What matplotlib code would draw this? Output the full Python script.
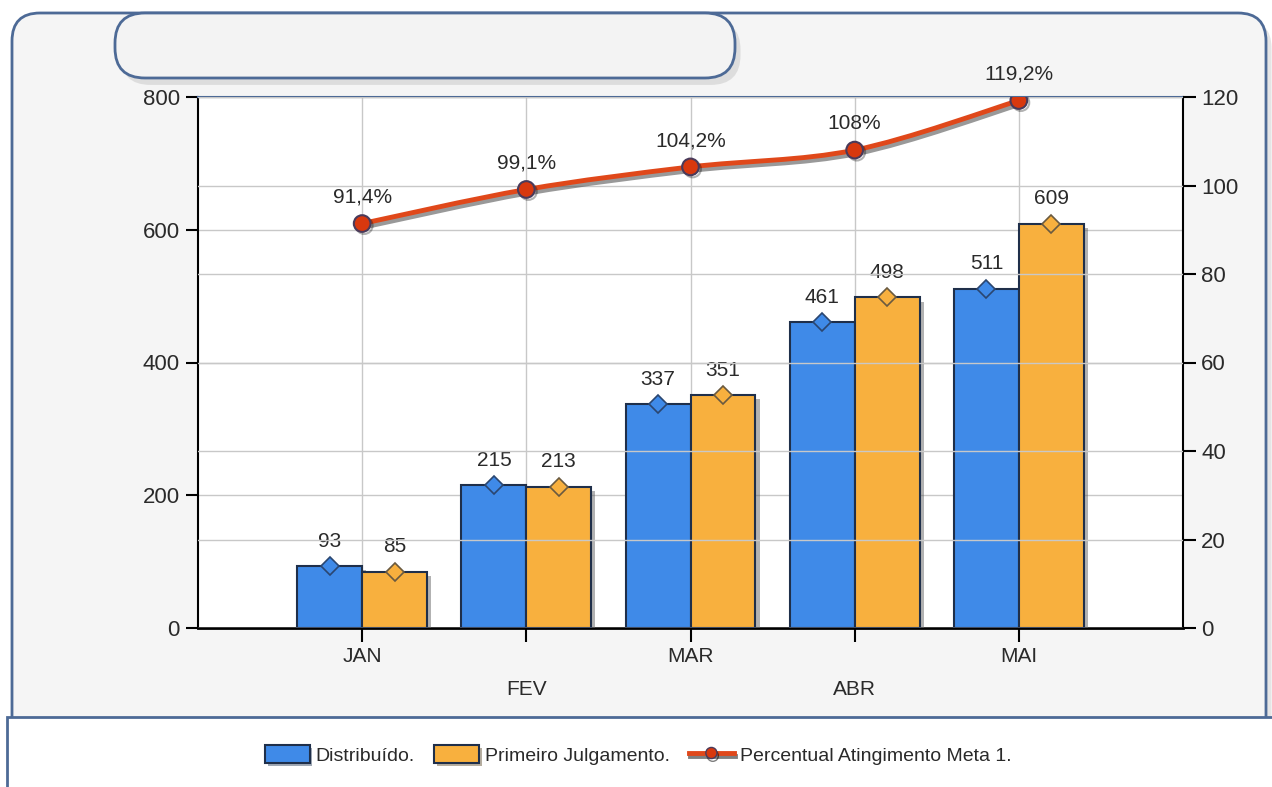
import matplotlib
matplotlib.use("Agg")
import matplotlib.pyplot as plt
import matplotlib.patheffects as pe
from matplotlib.patches import FancyBboxPatch, Rectangle, PathPatch
from matplotlib.path import Path
from matplotlib.lines import Line2D
from matplotlib.transforms import ScaledTranslation
import numpy as np

months = ["JAN", "FEV", "MAR", "ABR", "MAI"]
distribuido = [93, 215, 337, 461, 511]
julgamento = [85, 213, 351, 498, 609]
percentual = [91.4, 99.1, 104.2, 108, 119.2]

FONT = ["Liberation Sans", "DejaVu Sans"]
plt.rcParams["font.family"] = FONT

blue = "#3F8AE8"
orange = "#F8B03E"
red = "#E0481A"
edge = "#1F2F4A"
frame_c = "#4D6A96"
txt_c = "#2A2A2A"

W, H = 1272, 787
fig = plt.figure(figsize=(W / 100, H / 100), dpi=100)
fig.patch.set_facecolor("white")

# background decoration in pixel units
bg = fig.add_axes([0, 0, 1, 1], zorder=0)
bg.set_xlim(0, W)
bg.set_ylim(H, 0)
bg.axis("off")
soft = pe.withSimplePatchShadow(offset=(4, -5), shadow_rgbFace="#999999", alpha=0.25)
bg.add_patch(FancyBboxPatch((12, 13), 1254, 760, boxstyle="round,pad=0,rounding_size=28",
                            fc="#F5F5F5", ec=frame_c, lw=2, path_effects=[soft]))
bg.add_patch(FancyBboxPatch((115, 13), 620, 65, boxstyle="round,pad=0,rounding_size=30",
                            fc="#F3F3F3", ec=frame_c, lw=2, path_effects=[soft]))
bg.add_patch(Rectangle((7, 717), 1270, 80, fc="white", ec=frame_c, lw=2))

# main axes
ax = fig.add_axes([198 / W, 159 / H, 985 / W, 531 / H], zorder=2)
ax2 = ax.twinx()
x = np.arange(1, len(months) + 1)
bw = 0.395

bar_fx = [pe.SimplePatchShadow(offset=(3, -3), shadow_rgbFace="#555555", alpha=0.45), pe.Normal()]
ax.bar(x - bw / 2, distribuido, bw, color=blue, edgecolor=edge, lw=1.5, zorder=3, path_effects=bar_fx)
ax.bar(x + bw / 2, julgamento, bw, color=orange, edgecolor=edge, lw=1.5, zorder=3, path_effects=bar_fx)
ax.plot(x - bw / 2, distribuido, ls="none", marker="D", ms=9, mfc=blue, mec="#2A4670", mew=1.2, zorder=4)
ax.plot(x + bw / 2, julgamento, ls="none", marker="D", ms=9, mfc=orange, mec="#6A5A40", mew=1.2, zorder=4)
for xi, v in zip(x - bw / 2, distribuido):
    ax.annotate(str(v), (xi, v), xytext=(0, 14), textcoords="offset points", ha="center",
                va="baseline", fontsize=15, color=txt_c, zorder=5)
for xi, v in zip(x + bw / 2, julgamento):
    ax.annotate(str(v), (xi, v), xytext=(0, 14), textcoords="offset points", ha="center",
                va="baseline", fontsize=15, color=txt_c, zorder=5)

ax.set_xlim(0, len(months) + 1)
ax.set_ylim(0, 800)
ax.set_yticks([0, 200, 400, 600, 800])
ax.set_xticks(x)
ax.set_xticklabels(months)
ax.tick_params(axis="y", direction="out", length=9, width=1.5, labelsize=16, colors="black",
               labelcolor=txt_c, pad=4)
ax.tick_params(axis="x", direction="out", length=10, width=1.5, labelsize=15, colors="black",
               labelcolor=txt_c, pad=4)
for i, lab in enumerate(ax.get_xticklabels()):
    if i % 2 == 1:
        lab.set_transform(lab.get_transform() + ScaledTranslation(0, -0.33, fig.dpi_scale_trans))
ax.grid(True, color="#C8C8C8", lw=1, zorder=0)
ax.set_axisbelow(True)
ax.set_facecolor("white")
ax.spines["left"].set_linewidth(1.5)
ax.spines["bottom"].set_linewidth(2)
ax.spines["right"].set_linewidth(1.5)
ax.spines["top"].set_color(frame_c)
ax.spines["top"].set_linewidth(1.5)

# right axis, percent line
ax2.set_ylim(0, 120)
ax2.set_yticks(range(0, 121, 20))
ax2.tick_params(axis="y", direction="out", length=9, width=1.5, labelsize=16, colors="black",
                labelcolor=txt_c, pad=4)
ax2.grid(True, axis="y", color="#C8C8C8", lw=1)
ax2.set_axisbelow(True)
for s in ax2.spines.values():
    s.set_visible(False)
ax.set_zorder(1)
ax2.set_zorder(2)
ax2.patch.set_visible(False)


def smooth_path(xs, ys, t=0.5):
    xs, ys = np.asarray(xs, float), np.asarray(ys, float)
    verts = [(xs[0], ys[0])]
    codes = [Path.MOVETO]
    n = len(xs)
    for i in range(n - 1):
        p0 = i - 1 if i > 0 else i
        p3 = i + 2 if i + 2 < n else i + 1
        c1 = (xs[i] + (xs[i + 1] - xs[p0]) * t / 3, ys[i] + (ys[i + 1] - ys[p0]) * t / 3)
        c2 = (xs[i + 1] - (xs[p3] - xs[i]) * t / 3, ys[i + 1] - (ys[p3] - ys[i]) * t / 3)
        verts += [c1, c2, (xs[i + 1], ys[i + 1])]
        codes += [Path.CURVE4] * 3
    return Path(verts, codes)


line_path = smooth_path(x, percentual)
ax2.add_patch(PathPatch(line_path, fill=False, ec=red, lw=3.5, zorder=5,
                        path_effects=[pe.SimpleLineShadow(offset=(1.5, -2.5), shadow_color="#555555", alpha=0.6),
                                      pe.Normal()]))
ax2.plot(x, percentual, ls="none", marker="o", ms=12, mfc="#D8380E", mec="#4A3A5A", mew=1.5, zorder=6,
         path_effects=[pe.SimpleLineShadow(offset=(1.5, -1.5), alpha=0.3), pe.Normal()])
for xi, v in zip(x, percentual):
    ax2.annotate(f"{v:g}".replace(".", ",") + "%", (xi, v), xytext=(0, 15), textcoords="offset points",
                 ha="center", va="baseline", fontsize=15, color=txt_c, zorder=7)

# legend
handles = [
    Rectangle((0, 0), 1, 1, fc=blue, ec=edge, lw=1.5,
              path_effects=[pe.SimplePatchShadow(offset=(2, -2), alpha=0.4), pe.Normal()]),
    Rectangle((0, 0), 1, 1, fc=orange, ec=edge, lw=1.5,
              path_effects=[pe.SimplePatchShadow(offset=(2, -2), alpha=0.4), pe.Normal()]),
    Line2D([], [], color=red, lw=3.5, marker="o", ms=8, mfc="#D8380E", mec="#4A3A5A",
           path_effects=[pe.SimpleLineShadow(offset=(1, -2), alpha=0.5), pe.Normal()]),
]
labels = ["Distribuído.", "Primeiro Julgamento.", "Percentual Atingimento Meta 1."]
fig.legend(handles, labels, loc="center", bbox_to_anchor=(638 / W, 1 - 755 / H), ncol=3,
           frameon=False, fontsize=14, handlelength=2.3, handleheight=1.0, handletextpad=0.3,
           columnspacing=1.0, labelcolor=txt_c)

fig.savefig("out.png", dpi=100)
